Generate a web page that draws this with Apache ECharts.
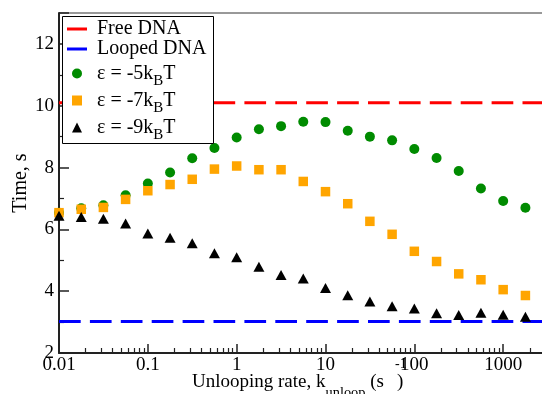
<!DOCTYPE html>
<html><head><meta charset="utf-8">
<script src="https://cdn.jsdelivr.net/npm/echarts@6/dist/echarts.min.js"></script>
<style>html,body{margin:0;padding:0;background:#fff}#c{width:542px;height:394px}</style>
</head><body><div id="c"></div>
<script>
// ---- data ----
const rates = [0.01, 0.0178, 0.0316, 0.0562, 0.1, 0.178, 0.316, 0.562, 1, 1.78, 3.16, 5.62, 10, 17.8, 31.6, 56.2, 100, 178, 316, 562, 1000, 1780];
const eps5 = [6.54, 6.68, 6.78, 7.10, 7.48, 7.84, 8.30, 8.63, 8.97, 9.24, 9.34, 9.48, 9.47, 9.19, 9.00, 8.88, 8.60, 8.31, 7.89, 7.32, 6.92, 6.70];
const eps7 = [6.54, 6.65, 6.71, 6.97, 7.25, 7.45, 7.62, 7.95, 8.05, 7.93, 7.93, 7.55, 7.22, 6.83, 6.26, 5.84, 5.29, 4.96, 4.56, 4.37, 4.05, 3.86];
const eps9 = [6.44, 6.40, 6.34, 6.19, 5.87, 5.73, 5.55, 5.23, 5.10, 4.79, 4.52, 4.41, 4.10, 3.87, 3.67, 3.51, 3.44, 3.29, 3.23, 3.30, 3.24, 3.17];
const freeDNA = 10.1;
const loopedDNA = 3.02;
const seriesNames = ['Free DNA', 'Looped DNA', 'ε = -5k_BT', 'ε = -7k_BT', 'ε = -9k_BT'];
const xTickLabels = ['0.01', '0.1', '1', '10', '100', '1000', '10000'];
const xDecades = [0.01, 0.1, 1, 10, 100, 1000];
const minorMult = [2, 3, 4, 5, 6, 7, 8, 9];

// ---- build ----
const FONT = 'Liberation Serif';
const xMin = 0.01, xMax = 10000;
const minorTicks = [];
xDecades.forEach(d => minorMult.forEach(m => minorTicks.push(+(d * m).toPrecision(6))));
const pair = (ys) => rates.map((r, i) => [r, ys[i]]);
const lbl = (v) => {
  const s = String(+(+v).toPrecision(6));
  const idx = xTickLabels.indexOf(s);
  return idx >= 0 ? xTickLabels[idx] : s;
};

const chart = echarts.init(document.getElementById('c'), null, {renderer: 'canvas'});
chart.setOption({
  animation: false,
  backgroundColor: '#fff',
  grid: {left: 59, top: 13, right: -50, bottom: 41, containLabel: false, outerBoundsMode: 'none',
    show: true, borderColor: '#333', borderWidth: 1, backgroundColor: 'transparent'},
  xAxis: [{
    type: 'log', logBase: 10, min: xMin, max: xMax, splitNumber: 6,
    axisLine: {show: true, lineStyle: {color: '#222', width: 2}},
    axisTick: {show: true, inside: true, length: 9, lineStyle: {color: '#222', width: 1.5}},
    minorTick: {show: false},
    splitLine: {show: false},
    axisLabel: {margin: 3, fontFamily: FONT, fontSize: 19, color: '#000', formatter: lbl}
  }, {
    type: 'log', logBase: 10, min: xMin, max: xMax, position: 'bottom', gridIndex: 0,
    axisLine: {show: false},
    axisTick: {show: true, inside: true, length: 5, customValues: minorTicks, lineStyle: {color: '#222', width: 1.2}},
    axisLabel: {show: false},
    splitLine: {show: false}
  }],
  yAxis: {
    type: 'value', min: 2, max: 13, interval: 2,
    name: 'Time, s', nameLocation: 'middle', nameGap: 28, nameMoveOverlap: false,
    nameTextStyle: {fontFamily: FONT, fontSize: 20, color: '#000'},
    axisLine: {show: true, lineStyle: {color: '#222', width: 2}},
    axisTick: {show: true, inside: true, length: 10, lineStyle: {color: '#222', width: 1.5}},
    minorTick: {show: true, splitNumber: 2, length: 5, lineStyle: {color: '#222', width: 1.2}},
    splitLine: {show: false},
    axisLabel: {margin: 5, fontFamily: FONT, fontSize: 19, color: '#000', showMaxLabel: false}
  },
  legend: [{
    data: [{name: seriesNames[0], icon: 'rect'}, {name: seriesNames[1], icon: 'rect'}],
    orient: 'vertical', left: 67, top: 19, itemWidth: 20, itemHeight: 3, itemGap: 0,
    padding: 0, selectedMode: false,
    textStyle: {fontFamily: FONT, fontSize: 20, color: '#000', lineHeight: 19, padding: [0, 0, 0, 5]}
  }, {
    data: [{name: seriesNames[2], icon: 'circle'}, {name: seriesNames[3], icon: 'rect'}, {name: seriesNames[4], icon: 'triangle'}],
    orient: 'vertical', left: 72, top: 58, itemWidth: 10, itemHeight: 10, itemGap: -4,
    padding: 0, selectedMode: false,
    formatter: (n) => n.replace('_B', '{sub|B}'),
    textStyle: {fontFamily: FONT, fontSize: 20, color: '#000', lineHeight: 20, padding: [0, 0, 0, 10],
      rich: {sub: {fontFamily: FONT, fontSize: 15, color: '#000', verticalAlign: 'bottom', lineHeight: 31}}}
  }],
  graphic: [
    {type: 'rect', z: 3, shape: {x: 62.5, y: 16.5, width: 151, height: 127}, style: {fill: '#fff', stroke: '#000', lineWidth: 1}},
    {type: 'text', z: 5, left: 192, top: 364, style: {
      text: 'Unlooping rate, k{sub|unloop} (s{gap| })',
      fontFamily: FONT, fontSize: 19, fill: '#000', lineHeight: 20,
      rich: {sub: {fontFamily: FONT, fontSize: 14.4, fill: '#000', verticalAlign: 'bottom', lineHeight: 36},
             gap: {width: 13}}
    }},
    {type: 'text', z: 5, left: 395, top: 357, style: {text: '-1', fontFamily: FONT, fontSize: 14, fill: '#000'}}
  ],
  series: [
    {name: seriesNames[0], type: 'line', data: [[xMin, freeDNA], [xMax, freeDNA]], symbol: 'none', z: 1,
      itemStyle: {color: '#ff0000'}, lineStyle: {color: '#ff0000', width: 3, type: [21.7, 9.2]}},
    {name: seriesNames[1], type: 'line', data: [[xMin, loopedDNA], [xMax, loopedDNA]], symbol: 'none', z: 1,
      itemStyle: {color: '#0000ff'}, lineStyle: {color: '#0000ff', width: 3, type: [21.7, 9.2]}},
    {name: seriesNames[2], type: 'scatter', data: pair(eps5), symbol: 'circle', symbolSize: 10, z: 2,
      itemStyle: {color: '#008b00', opacity: 1}},
    {name: seriesNames[3], type: 'scatter', data: pair(eps7), symbol: 'rect', symbolSize: 9.5, z: 2,
      itemStyle: {color: '#ffa500', opacity: 1}},
    {name: seriesNames[4], type: 'scatter', data: pair(eps9), symbol: 'triangle', symbolSize: [11, 10], z: 2,
      itemStyle: {color: '#000', opacity: 1}}
  ]
});
</script></body></html>
